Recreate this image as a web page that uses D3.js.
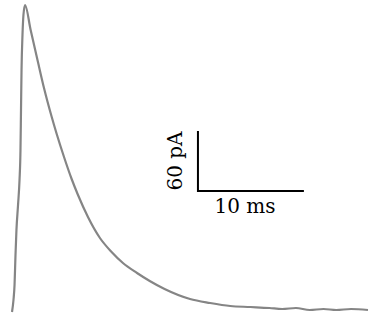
<!DOCTYPE html>
<html><head><meta charset="utf-8">
<script src="https://cdn.jsdelivr.net/npm/d3@7"></script>
<style>html,body{margin:0;padding:0;background:#fff;}svg{display:block;}</style>
</head><body>
<script>
// Trace: time (ms) and current (pA)
const timeMs = [0,0.14,0.24,0.33,0.42,0.57,0.71,0.80,0.85,0.90,0.99,1.08,1.23,1.76,2.45,3.02,3.75,4.22,4.91,5.63,6.23,7.17,8.30,9.40,10.47,11.8,13.0,14.4,16.8,18.7,20.6,22.5,24.3,25.5,26.8,28.1,29.4,30.6,32.0,33.6];
const currentPA = [0,12,27,57,82,107,132,162,202,242,277,297,307,282,250,224,195,178,155,133,117,95,74,60,49,39,31,23,13,9,6,5,4,3,4,2,3,2,3,2];
// Scale bar
const barTimeMs = 10;
const barCurrentPA = 60;
const barLabels = ["10 ms", "60 pA"];

const W = 370, H = 322;
const svg = d3.select("body").append("svg").attr("width", W).attr("height", H);
const x = d3.scaleLinear().domain([0, 33.6]).range([12, 368]);
const y = d3.scaleLinear().domain([0, 308]).range([312, 4]);

const line = d3.line().x((d,i)=>x(timeMs[i])).y((d,i)=>y(currentPA[i])).curve(d3.curveMonotoneX);
svg.append("path").datum(currentPA).attr("d", line)
  .attr("fill","none").attr("stroke","#858585").attr("stroke-width",2.2).attr("stroke-linejoin","round");

// scale bar anchored at t0, I0
const t0 = 17.55, i0 = 121;
const bx = x(t0), by = y(i0);
svg.append("path")
  .attr("d", `M${bx},${y(i0+barCurrentPA)}V${by}H${x(t0+barTimeMs)}`)
  .attr("fill","none").attr("stroke","#000").attr("stroke-width",2);
svg.append("text").attr("x", bx + 47).attr("y", by+22)
  .attr("text-anchor","middle").attr("font-family","DejaVu Serif").attr("font-size",20).text(barLabels[0]);
svg.append("text").attr("transform", `translate(${bx-16},${(by + y(i0+barCurrentPA))/2}) rotate(-90)`)
  .attr("text-anchor","middle").attr("font-family","DejaVu Serif").attr("font-size",20).text(barLabels[1]);
</script>
</body></html>
